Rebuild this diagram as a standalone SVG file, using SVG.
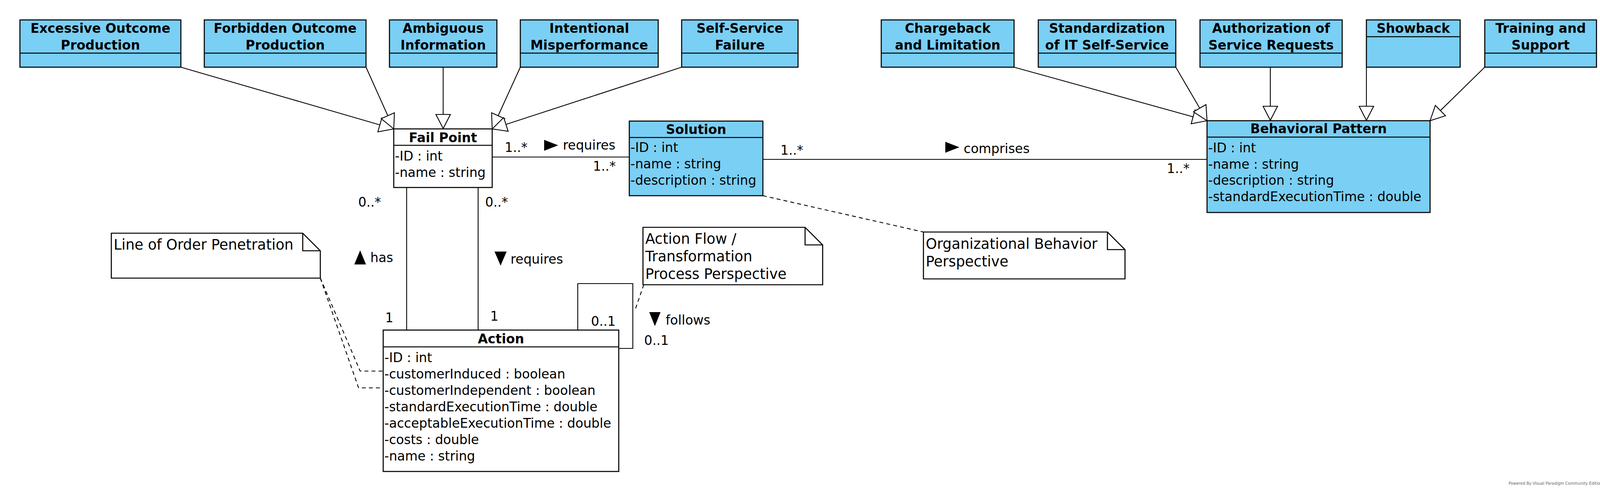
<svg xmlns="http://www.w3.org/2000/svg" width="4137" height="1257" viewBox="0 0 4137 1257">
<defs>
<style>
text{font-family:"DejaVu Sans","Liberation Sans",sans-serif;font-size:33px;fill:#000}
.t{font-weight:bold;text-anchor:middle}
.nt{font-size:36.5px}
.cls{fill:#7ACFF5;stroke:#000;stroke-width:2.7}
.wcls{fill:#fff;stroke:#000;stroke-width:2.7}
.div{stroke:#000;stroke-width:2.7;fill:none}
.note{fill:#fff;stroke:#000;stroke-width:2.7}
.ln{stroke:#000;stroke-width:2.2;fill:none}
.dash{stroke:#000;stroke-width:2.2;fill:none;stroke-dasharray:10 8}
.gen{fill:#fff;stroke:#000;stroke-width:2.2;stroke-linejoin:miter}
.dir{fill:#000;stroke:none}
.wm{font-size:10px;fill:#666}
</style>
</defs>
<rect x="0" y="0" width="4137" height="1257" fill="#fff"/>

<g id="connectors">
  <!-- generalizations to Fail Point -->
  <line class="ln" x1="463" y1="172" x2="972.5" y2="319.7"/>
  <polygon class="gen" points="1008,330 967.3,337.5 977.6,301.9"/>
  <line class="ln" x1="937" y1="172" x2="992.8" y2="296.3"/>
  <polygon class="gen" points="1008,330 976,303.8 1009.7,288.7"/>
  <line class="ln" x1="1134.5" y1="172" x2="1134.5" y2="293"/>
  <polygon class="gen" points="1134.5,329 1116,293 1153,293"/>
  <line class="ln" x1="1332" y1="172" x2="1275.3" y2="296.3"/>
  <polygon class="gen" points="1260,330 1258.5,288.7 1292.2,304"/>
  <line class="ln" x1="1745" y1="172" x2="1295.2" y2="318.5"/>
  <polygon class="gen" points="1260,330 1289.5,301 1300.9,336.1"/>
  <!-- generalizations to Behavioral Pattern -->
  <line class="ln" x1="2596" y1="172" x2="3054.3" y2="299.1"/>
  <polygon class="gen" points="3090,309 3049.4,316.9 3059.3,281.3"/>
  <line class="ln" x1="3010" y1="172" x2="3071.3" y2="277"/>
  <polygon class="gen" points="3090,309 3055.4,286.4 3087.3,267.7"/>
  <line class="ln" x1="3252" y1="172" x2="3252" y2="272"/>
  <polygon class="gen" points="3252,308 3233.5,272 3270.5,272"/>
  <line class="ln" x1="3498" y1="172" x2="3498" y2="272"/>
  <polygon class="gen" points="3498,308 3479.5,272 3516.5,272"/>
  <line class="ln" x1="3801" y1="172" x2="3687.4" y2="283.1"/>
  <polygon class="gen" points="3661,309 3674.5,269.9 3700.4,296.3"/>

  <!-- associations -->
  <path class="ln" d="M1260 402 H1611"/>
  <path class="ln" d="M1953 408 H3090"/>
  <path class="ln" d="M1041 480 V845"/>
  <path class="ln" d="M1224 480 V845"/>
  <path class="ln" d="M1479 845 V726 H1620 V892 H1584"/>

  <!-- note anchors -->
  <path class="dash" d="M1953 501 L2364 594"/>
  <path class="dash" d="M1648 729 L1627 790"/>
  <path class="dash" d="M820 712 L922 950 H981"/>
  <path class="dash" d="M820 712 L918 993 H981"/>

  <!-- association labels -->
  <text x="1292" y="389">1..*</text>
  <polygon class="dir" points="1393,358 1429,372 1393,386"/>
  <text x="1441" y="383">requires</text>
  <text x="1518" y="437">1..*</text>

  <text x="1998" y="396">1..*</text>
  <polygon class="dir" points="2420,363 2456,377 2420,391"/>
  <text x="2467" y="392">comprises</text>
  <text x="2987" y="443">1..*</text>

  <text x="917" y="529">0..*</text>
  <polygon class="dir" points="907,677 922,641 937,677"/>
  <text x="948" y="671">has</text>
  <text x="986" y="825">1</text>

  <text x="1242" y="529">0..*</text>
  <polygon class="dir" points="1266,644 1297,644 1281.5,680"/>
  <text x="1307" y="675">requires</text>
  <text x="1255" y="821">1</text>

  <text x="1513" y="834">0..1</text>
  <polygon class="dir" points="1662,799 1691,799 1676.5,835"/>
  <text x="1704" y="831">follows</text>
  <text x="1649" y="883">0..1</text>
</g>

<g id="excessive-outcome-production">
  <rect class="cls" x="51" y="51" width="412" height="121"/>
  <line class="div" x1="51" y1="136" x2="463" y2="136"/>
  <text class="t" x="257" y="84">Excessive Outcome</text>
  <text class="t" x="257" y="127">Production</text>
</g>
<g id="forbidden-outcome-production">
  <rect class="cls" x="523" y="51" width="414" height="121"/>
  <line class="div" x1="523" y1="136" x2="937" y2="136"/>
  <text class="t" x="730" y="84">Forbidden Outcome</text>
  <text class="t" x="730" y="127">Production</text>
</g>
<g id="ambiguous-information">
  <rect class="cls" x="997" y="51" width="275" height="121"/>
  <line class="div" x1="997" y1="136" x2="1272" y2="136"/>
  <text class="t" x="1134.5" y="84">Ambiguous</text>
  <text class="t" x="1134.5" y="127">Information</text>
</g>
<g id="intentional-misperformance">
  <rect class="cls" x="1332" y="51" width="353" height="121"/>
  <line class="div" x1="1332" y1="136" x2="1685" y2="136"/>
  <text class="t" x="1508.5" y="84">Intentional</text>
  <text class="t" x="1508.5" y="127">Misperformance</text>
</g>
<g id="self-service-failure">
  <rect class="cls" x="1745" y="51" width="298" height="121"/>
  <line class="div" x1="1745" y1="136" x2="2043" y2="136"/>
  <text class="t" x="1894" y="84">Self-Service</text>
  <text class="t" x="1894" y="127">Failure</text>
</g>
<g id="chargeback-and-limitation">
  <rect class="cls" x="2256" y="51" width="340" height="121"/>
  <line class="div" x1="2256" y1="136" x2="2596" y2="136"/>
  <text class="t" x="2426" y="84">Chargeback</text>
  <text class="t" x="2426" y="127">and Limitation</text>
</g>
<g id="standardization-of-it-self-service">
  <rect class="cls" x="2658" y="51" width="352" height="121"/>
  <line class="div" x1="2658" y1="136" x2="3010" y2="136"/>
  <text class="t" x="2834" y="84">Standardization</text>
  <text class="t" x="2834" y="127">of IT Self-Service</text>
</g>
<g id="authorization-of-service-requests">
  <rect class="cls" x="3072" y="51" width="364" height="121"/>
  <line class="div" x1="3072" y1="136" x2="3436" y2="136"/>
  <text class="t" x="3254" y="84">Authorization of</text>
  <text class="t" x="3254" y="127">Service Requests</text>
</g>
<g id="showback">
  <rect class="cls" x="3498" y="51" width="240" height="121"/>
  <line class="div" x1="3498" y1="94" x2="3738" y2="94"/>
  <text class="t" x="3618" y="84">Showback</text>
</g>
<g id="training-and-support">
  <rect class="cls" x="3801" y="51" width="286" height="121"/>
  <line class="div" x1="3801" y1="136" x2="4087" y2="136"/>
  <text class="t" x="3944" y="84">Training and</text>
  <text class="t" x="3944" y="127">Support</text>
</g>

<g id="fail-point">
  <rect class="wcls" x="1008" y="330" width="252" height="150"/>
  <line class="div" x1="1008" y1="372" x2="1260" y2="372"/>
  <text class="t" x="1134" y="364">Fail Point</text>
  <text x="1011" y="411">-ID : int</text>
  <text x="1011" y="453">-name : string</text>
</g>
<g id="solution">
  <rect class="cls" x="1611" y="310" width="342" height="191"/>
  <line class="div" x1="1611" y1="352" x2="1953" y2="352"/>
  <text class="t" x="1782" y="343">Solution</text>
  <text x="1614" y="389">-ID : int</text>
  <text x="1614" y="431">-name : string</text>
  <text x="1614" y="473">-description : string</text>
</g>
<g id="behavioral-pattern">
  <rect class="cls" x="3090" y="309" width="571" height="235"/>
  <line class="div" x1="3090" y1="351" x2="3661" y2="351"/>
  <text class="t" x="3375.5" y="341">Behavioral Pattern</text>
  <text x="3093" y="390">-ID : int</text>
  <text x="3093" y="432">-name : string</text>
  <text x="3093" y="473">-description : string</text>
  <text x="3093" y="515">-standardExecutionTime : double</text>
</g>
<g id="action">
  <rect class="wcls" x="981" y="845" width="603" height="362"/>
  <line class="div" x1="981" y1="888" x2="1584" y2="888"/>
  <text class="t" x="1282.5" y="879">Action</text>
  <text x="984" y="927">-ID : int</text>
  <text x="984" y="969">-customerInduced : boolean</text>
  <text x="984" y="1011">-customerIndependent : boolean</text>
  <text x="984" y="1053">-standardExecutionTime : double</text>
  <text x="984" y="1095">-acceptableExecutionTime : double</text>
  <text x="984" y="1137">-costs : double</text>
  <text x="984" y="1179">-name : string</text>
</g>

<g id="note-line-of-order-penetration">
  <path class="note" d="M285 597 H775 L820 642 V712 H285 Z"/>
  <path class="div" d="M775 597 V642 H820"/>
  <text class="nt" x="291" y="639">Line of Order Penetration</text>
</g>
<g id="note-action-flow">
  <path class="note" d="M1646 582 H2061 L2106 627 V729 H1646 Z"/>
  <path class="div" d="M2061 582 V627 H2106"/>
  <text class="nt" x="1652" y="624">Action Flow /</text>
  <text class="nt" x="1652" y="669">Transformation</text>
  <text class="nt" x="1652" y="714">Process Perspective</text>
</g>
<g id="note-organizational-behavior">
  <path class="note" d="M2364 594 H2835 L2880 639 V714 H2364 Z"/>
  <path class="div" d="M2835 594 V639 H2880"/>
  <text class="nt" x="2370" y="637">Organizational Behavior</text>
  <text class="nt" x="2370" y="682">Perspective</text>
</g>

<g id="watermark">
  <text class="wm" x="3862" y="1241">Powered By Visual Paradigm Community Edition</text>
  <polygon points="4108,1237 4114,1230 4120,1237 4114,1244" fill="#d4202c"/>
</g>
</svg>
